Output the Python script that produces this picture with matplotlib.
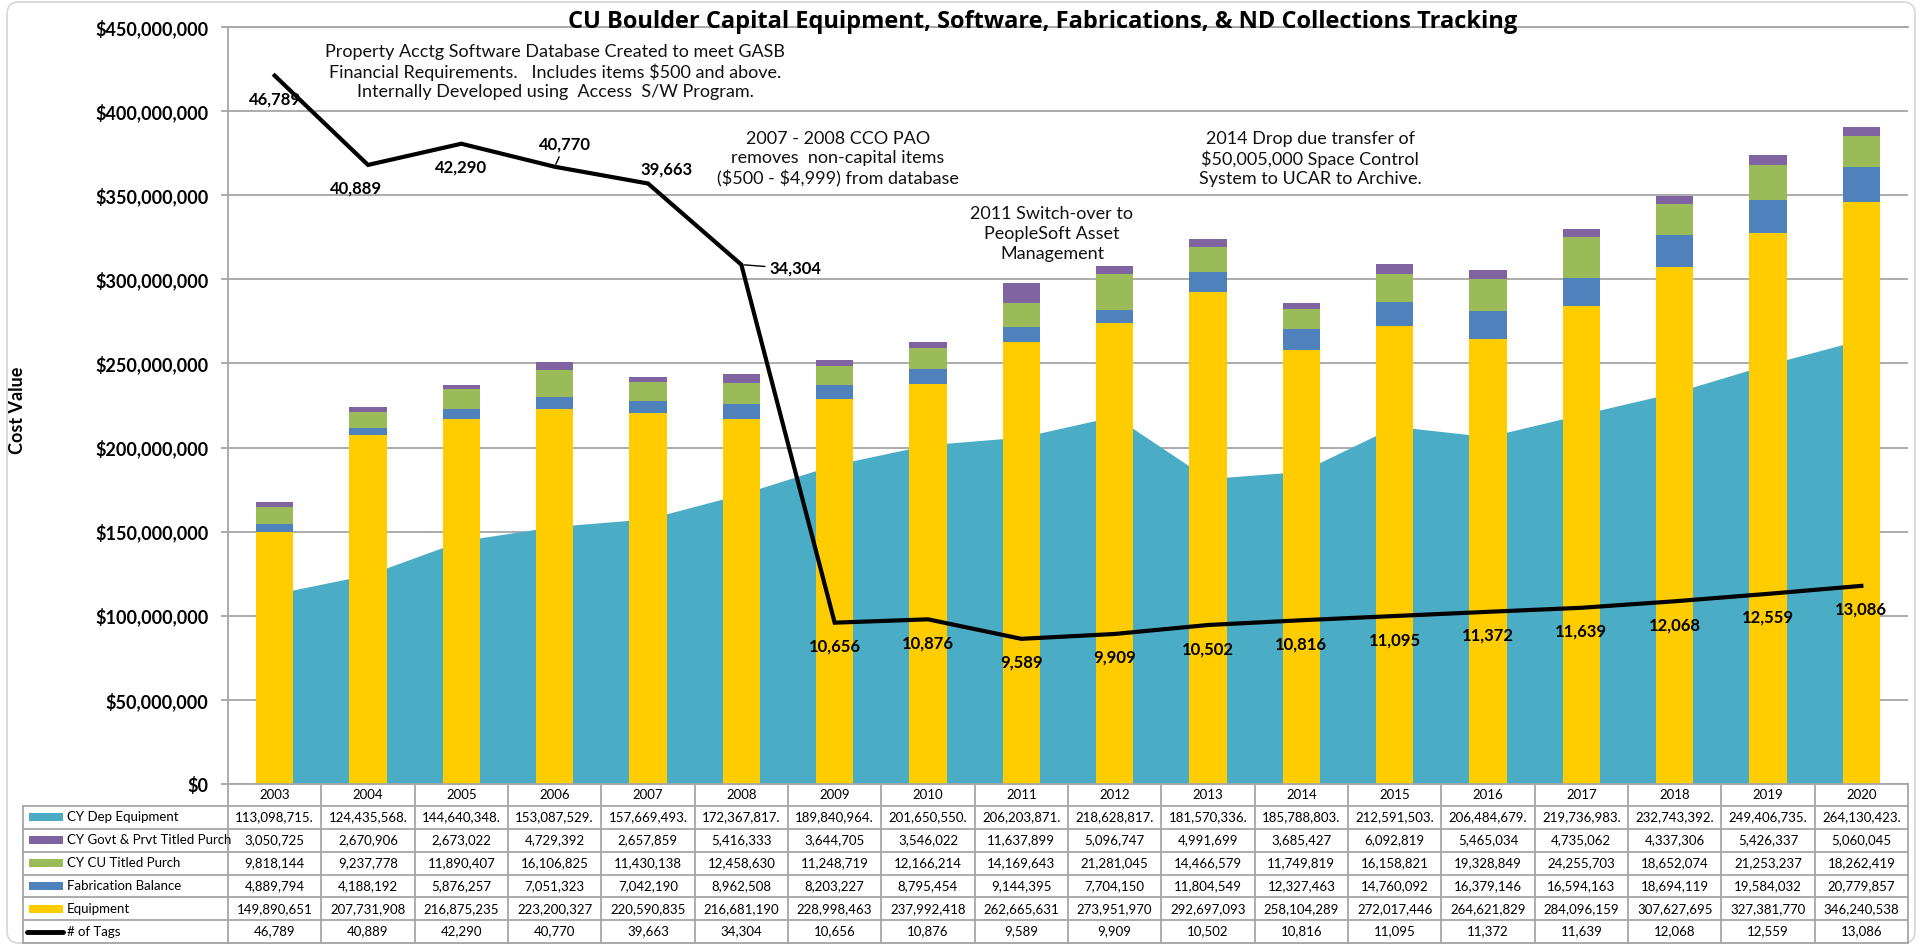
import numpy as np
import matplotlib
matplotlib.use("Agg")
import matplotlib.pyplot as plt
from matplotlib.transforms import blended_transform_factory
from matplotlib.patches import Rectangle, FancyBboxPatch

plt.rcParams['font.family'] = ['Lato', 'DejaVu Sans']

years = [2003, 2004, 2005, 2006, 2007, 2008, 2009, 2010, 2011,
         2012, 2013, 2014, 2015, 2016, 2017, 2018, 2019, 2020]

dep_equipment = [113098715, 124435568, 144640348, 153087529, 157669493, 172367817,
                 189840964, 201650550, 206203871, 218628817, 181570336, 185788803,
                 212591503, 206484679, 219736983, 232743392, 249406735, 264130423]
govt_prvt = [3050725, 2670906, 2673022, 4729392, 2657859, 5416333,
             3644705, 3546022, 11637899, 5096747, 4991699, 3685427,
             6092819, 5465034, 4735062, 4337306, 5426337, 5060045]
cu_titled = [9818144, 9237778, 11890407, 16106825, 11430138, 12458630,
             11248719, 12166214, 14169643, 21281045, 14466579, 11749819,
             16158821, 19328849, 24255703, 18652074, 21253237, 18262419]
fabrication = [4889794, 4188192, 5876257, 7051323, 7042190, 8962508,
               8203227, 8795454, 9144395, 7704150, 11804549, 12327463,
               14760092, 16379146, 16594163, 18694119, 19584032, 20779857]
equipment = [149890651, 207731908, 216875235, 223200327, 220590835, 216681190,
             228998463, 237992418, 262665631, 273951970, 292697093, 258104289,
             272017446, 264621829, 284096159, 307627695, 327381770, 346240538]
tags = [46789, 40889, 42290, 40770, 39663, 34304, 10656, 10876, 9589,
        9909, 10502, 10816, 11095, 11372, 11639, 12068, 12559, 13086]

C_DEP = "#4BACC6"
C_GOVT = "#8064A2"
C_CU = "#9BBB59"
C_FAB = "#4F81BD"
C_EQ = "#FFCC00"
GRIGIO = "#A6A6A6"

W, H = 1922, 944
AX_L, AX_R, AX_T, AX_B = 228, 1908, 27, 784

fig = plt.figure(figsize=(W / 100, H / 100), dpi=100)
fig.patch.set_facecolor("white")
ax = fig.add_axes([AX_L / W, 1 - AX_B / H, (AX_R - AX_L) / W, (AX_B - AX_T) / H])

x = np.arange(len(years))

# area dietro alle barre
ax.fill_between(x, 0, dep_equipment, color=C_DEP, lw=0, zorder=1)

bw = 0.40
b1 = np.array(equipment)
b2 = b1 + np.array(fabrication)
b3 = b2 + np.array(cu_titled)
ax.bar(x, equipment, bw, color=C_EQ, zorder=2)
ax.bar(x, fabrication, bw, bottom=b1, color=C_FAB, zorder=2)
ax.bar(x, cu_titled, bw, bottom=b2, color=C_CU, zorder=2)
ax.bar(x, govt_prvt, bw, bottom=b3, color=C_GOVT, zorder=2)

ax.set_xlim(-0.5, len(years) - 0.5)
ax.set_ylim(0, 450e6)
yt = np.arange(0, 450e6 + 1, 50e6)
ax.set_yticks(yt, labels=[f"${v:,.0f}" for v in yt], fontweight="bold", fontsize=13)
ax.set_xticks([])
ax.tick_params(axis="y", length=5, width=1.3, color=GRIGIO, pad=9)
ax.grid(axis="y", color=GRIGIO, lw=1.3)
ax.set_axisbelow(True)
ax.spines["right"].set_visible(False)
for s in ["left", "bottom", "top"]:
    ax.spines[s].set_color(GRIGIO)
    ax.spines[s].set_linewidth(1.3)

# linea # of Tags su asse secondario nascosto
ax2 = ax.twinx()
ax2.set_ylim(0, 50000)
ax2.axis("off")
ax2.plot(x, tags, color="black", lw=3, solid_joinstyle="miter", zorder=5)

offsets = {1: (-8.6, -17.3), 3: (7.2, 15.8), 4: (13, 10.4), 5: (20, -3)}
for i, t in enumerate(tags):
    dx, dy = offsets.get(i, (0, -17.3))
    kw = {}
    ha = "center"
    if i in (3, 5):
        kw["arrowprops"] = dict(arrowstyle="-", color="black", lw=1, shrinkA=1, shrinkB=2)
    if i == 5:
        ha = "left"
    ax2.annotate(f"{t:,}", (i, t), xytext=(dx, dy), textcoords="offset points",
                 ha=ha, va="center", fontsize=12, fontweight="bold", zorder=6, **kw)

# note di testo
note_kw = dict(ha="center", va="center", fontsize=13, linespacing=1.27, color="#111111")
fig.text(555 / W, 1 - 72 / H,
         "Property Acctg Software Database Created to meet GASB\n"
         "Financial Requirements.   Includes items \\$500 and above.\n"
         "Internally Developed using  Access  S/W Program.", **note_kw)
fig.text(838 / W, 1 - 159 / H,
         "2007 - 2008 CCO PAO\nremoves  non-capital items\n(\\$500 - \\$4,999) from database",
         **note_kw)
fig.text(1310 / W, 1 - 159 / H,
         "2014 Drop due transfer of\n\\$50,005,000 Space Control\nSystem to UCAR to Archive.",
         **note_kw)
fig.text(1052 / W, 1 - 234 / H,
         "2011 Switch-over to\nPeopleSoft Asset\nManagement", **note_kw)

fig.text(1043 / W, 1 - 28 / H,
         "CU Boulder Capital Equipment, Software, Fabrications, & ND Collections Tracking",
         ha="center", va="baseline", fontsize=17, fontweight="bold",
         family=["Open Sans", "DejaVu Sans"])
fig.text(18 / W, 1 - 410 / H, "Cost Value", rotation=90, ha="center", va="center",
         fontsize=13, fontweight="bold")

# tabella dati sotto il grafico
pax = fig.add_axes([0, 0, 1, 1])
pax.set_xlim(0, W)
pax.set_ylim(H, 0)
pax.axis("off")
pax.patch.set_alpha(0)
bt = blended_transform_factory(ax.transData, pax.transData)

TAB_L = 22.7
HEAD_T = AX_B
ROW_T = 806
ROW_H = (943 - ROW_T) / 6

for i, yr in enumerate(years):
    pax.text(i, (HEAD_T + ROW_T) / 2, str(yr), transform=bt, ha="center", va="center",
             fontsize=9.5)

righe = [
    ("CY Dep Equipment", C_DEP, dep_equipment, "{:,}."),
    ("CY Govt & Prvt Titled Purch", C_GOVT, govt_prvt, "{:,}"),
    ("CY CU Titled Purch", C_CU, cu_titled, "{:,}"),
    ("Fabrication Balance", C_FAB, fabrication, "{:,}"),
    ("Equipment", C_EQ, equipment, "{:,}"),
    ("# of Tags", "black", tags, "{:,}"),
]
for r, (nome, col, vals, fmt) in enumerate(righe):
    yc = ROW_T + (r + 0.5) * ROW_H
    if nome == "# of Tags":
        pax.plot([27, 63], [yc, yc], color=col, lw=3.5, solid_capstyle="round")
    else:
        pax.add_patch(Rectangle((29, yc - 4), 34, 8, color=col, lw=0))
    pax.text(67, yc, nome, ha="left", va="center", fontsize=9.5)
    for i, v in enumerate(vals):
        pax.text(i, yc, fmt.format(v), transform=bt, ha="center", va="center", fontsize=9.5)

for k in range(7):
    y = ROW_T + k * ROW_H
    pax.plot([TAB_L, AX_R], [y, y], color=GRIGIO, lw=1.3)
pax.plot([TAB_L, TAB_L], [ROW_T, 943], color=GRIGIO, lw=1.3)
for k in range(len(years) + 1):
    pax.plot([k - 0.5, k - 0.5], [HEAD_T, 943], color=GRIGIO, lw=1.3, transform=bt)

pax.add_patch(FancyBboxPatch((7, 2), W - 14, H - 3,
                             boxstyle="round,pad=0,rounding_size=12",
                             fill=False, edgecolor="#D9D9D9", lw=1.3))

fig.savefig("out.png", dpi=100)
